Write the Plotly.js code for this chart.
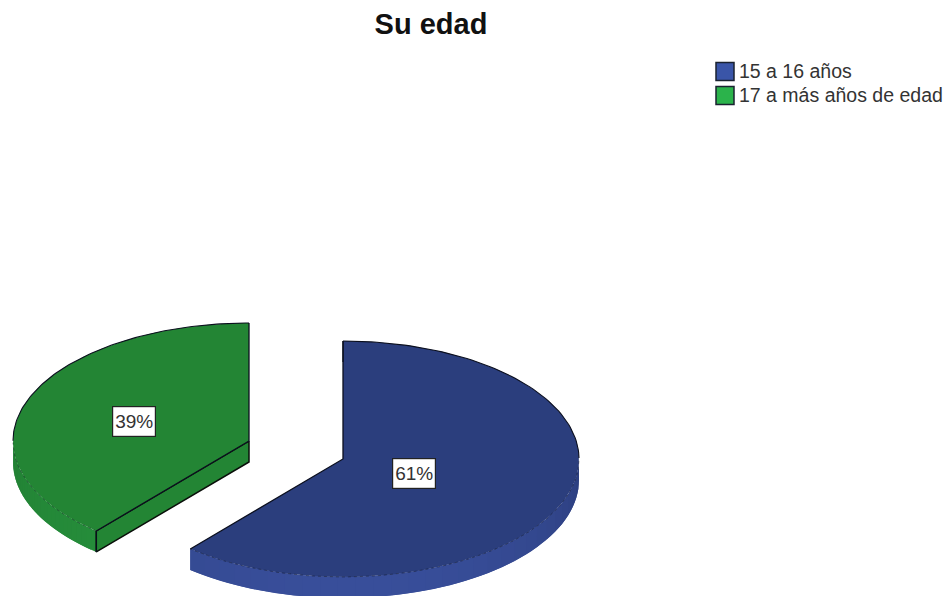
<!DOCTYPE html>
<html>
<head>
<meta charset="utf-8">
<script src="https://cdn.plot.ly/plotly-3.0.1.min.js"></script>
<style>html,body{margin:0;padding:0;background:#fff;overflow:hidden}#chart{width:946px;height:596px}</style>
</head>
<body>
<div id="chart"></div>
<script>
const categories = ['15 a 16 años', '17 a más años de edad'];
const values = [61.2, 38.8];

// Drawing settings: Plotly has no tilted pie, so each wedge is projected through the axes.
const centreX = [343, 249], centreY = [459, 441];
const labelRadius = [0.32, 0.52], labelDrop = [1, 1.5];
const rx = 236, ry = 118, depth = 21;
const topFill = ['#2b3e7d', '#238534'];
const sideDark = [[44, 62, 126], [34, 128, 52]];
const sideLight = [[56, 78, 154], [38, 144, 60]];
const legendFill = ['#3a55a8', '#2bb34b'];
const legendX = 725, legendY = [71.5, 95.5], legendTextX = 739, legendTextY = [73.5, 97.5];
const FONT = '"Liberation Sans", Arial, sans-serif';

const total = values.reduce((a, b) => a + b, 0);
const starts = values.map((v, i) => values.slice(0, i).reduce((a, b) => a + b, 0) / total);
const ends = values.map((v, i) => starts[i] + v / total);
const px = (i, t) => centreX[i] + rx * Math.sin(2 * Math.PI * t);
const py = (i, t, d = 0) => centreY[i] - ry * Math.cos(2 * Math.PI * t) + d;
const steps = (a, b, n) => Array.from({length: n + 1}, (_, k) => a + (b - a) * k / n);

const traces = [];
const poly = (xs, ys, fill) => traces.push({x: xs, y: ys, mode: 'lines', fill: 'toself', fillcolor: fill,
  line: {width: 0}, showlegend: false, hoverinfo: 'skip'});
const stroke = (xs, ys, color, width, dash) => traces.push({x: xs, y: ys, mode: 'lines',
  line: {color, width, dash: dash || 'solid'}, showlegend: false, hoverinfo: 'skip'});

function wedge(i) {
  const s = starts[i], e = ends[i];
  // rim: outer side band, only where it faces the viewer
  const a = Math.max(s, 0.25), b = Math.min(e, 0.75);
  const n = 30, ts = steps(a, b, n);
  for (let k = 0; k < n; k++) {
    const mid = (ts[k] + ts[k + 1]) / 2;
    const w = Math.max(0, Math.cos(2 * Math.PI * (mid - 0.5)));
    const c = sideDark[i].map((d, j) => Math.round(d + (sideLight[i][j] - d) * w));
    const t2 = steps(ts[k], ts[Math.min(k + 2, n)], 4);
    poly(t2.map(t => px(i, t)).concat(t2.slice().reverse().map(t => px(i, t))),
         t2.map(t => py(i, t)).concat(t2.slice().reverse().map(t => py(i, t, depth))),
         `rgb(${c.join(',')})`);
  }
  // cut face, visible on the wedge that ends at the upper vertical
  if (e >= 1 - 1e-9) {
    const fx = [centreX[i], px(i, s), px(i, s), centreX[i]];
    const fy = [centreY[i], py(i, s), py(i, s, depth), centreY[i] + depth];
    poly(fx.concat(fx[0]), fy.concat(fy[0]), topFill[i]);
    stroke(fx.concat(fx[0]), fy.concat(fy[0]), '#0a0f0a', 1.5);
  }
  // top face
  const arc = steps(s, e, 160);
  const wx = [centreX[i]].concat(arc.map(t => px(i, t)), centreX[i]);
  const wy = [centreY[i]].concat(arc.map(t => py(i, t)), centreY[i]);
  poly(wx, wy, topFill[i]);
  // outlines: straight edges and far arc dark, near arc faint
  const far = arc.filter(t => t <= 0.25 || t >= 0.75);
  const near = arc.filter(t => t >= 0.25 && t <= 0.75);
  stroke([px(i, s), centreX[i], px(i, e)], [py(i, s), centreY[i], py(i, e)], '#0b0f1e', 1.3);
  const split = far.findIndex((t, k) => k > 0 && t - far[k - 1] > 0.01);
  const parts = split > 0 ? [far.slice(0, split), far.slice(split)] : [far];
  parts.forEach(p => stroke(p.map(t => px(i, t)), p.map(t => py(i, t)), '#0b0f1e', 1.1));
  stroke(near.map(t => px(i, t)), near.map(t => py(i, t)), 'rgba(10,15,30,0.5)', 0.8, 'dot');
  // rim outline at the outer end of the band
  stroke([px(i, s), px(i, s)], [py(i, s), py(i, s, depth)], '#0b0f1e', 1.2);
}
[1, 0].forEach(wedge);

// Legend keys with their names, placed to the reference's tight key-to-text spacing
categories.forEach((c, i) => {
  traces.push({
    x: [legendX], y: [legendY[i]], mode: 'markers', name: c, showlegend: false, hoverinfo: 'skip', cliponaxis: false,
    marker: {symbol: 'square', size: 18, color: legendFill[i], line: {color: '#1a2230', width: 1.5}}
  });
  traces.push({
    x: [legendTextX], y: [legendTextY[i]], mode: 'text', name: c, text: [c], textposition: 'middle right',
    showlegend: false, hoverinfo: 'skip', cliponaxis: false,
    textfont: {family: FONT, size: 19.5, color: '#333'}
  });
});

const annotations = categories.map((c, i) => {
  const mid = 2 * Math.PI * (starts[i] + ends[i]) / 2;
  return {
    x: centreX[i] + labelRadius[i] * rx * Math.sin(mid),
    y: centreY[i] - labelRadius[i] * ry * Math.cos(mid) + labelDrop[i],
    xref: 'x', yref: 'y', text: Math.round(values[i]) + '%', showarrow: false,
    width: 42, height: 29, align: 'center', valign: 'middle',
    bgcolor: '#fff', bordercolor: '#222', borderwidth: 1.2, borderpad: 0,
    font: {family: FONT, size: 19, color: '#333'}
  };
});

Plotly.newPlot('chart', traces, {
  width: 946, height: 596, autosize: false,
  margin: {l: 0, r: 0, t: 0, b: 0},
  paper_bgcolor: '#fff', plot_bgcolor: '#fff',
  showlegend: false,
  title: {text: '<b>Su edad</b>', x: 431 / 946, xanchor: 'center', y: 1 - 24 / 596, yanchor: 'middle',
          font: {family: FONT, size: 29, color: '#111'}},
  xaxis: {range: [0, 946], visible: false, fixedrange: true},
  yaxis: {range: [596, 0], visible: false, fixedrange: true},
  annotations
}, {displayModeBar: false, staticPlot: true});
</script>
</body>
</html>
